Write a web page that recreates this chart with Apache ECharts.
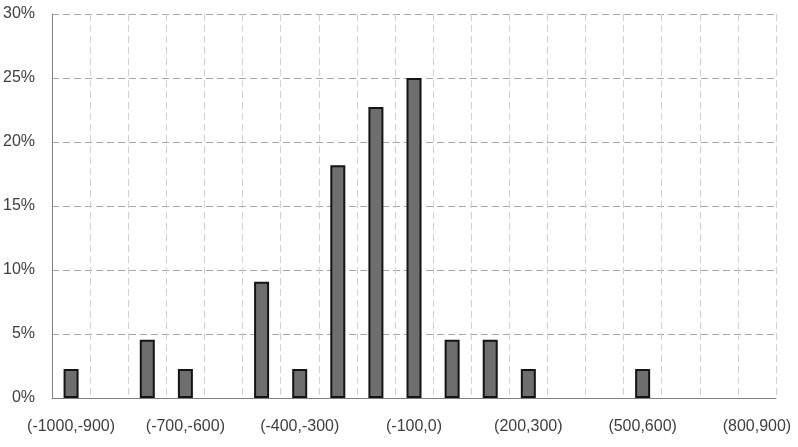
<!DOCTYPE html>
<html><head><meta charset="utf-8">
<script src="https://cdn.jsdelivr.net/npm/echarts@6/dist/echarts.min.js"></script>
<style>html,body{margin:0;padding:0;background:#fff}#c{width:798px;height:447px}</style>
</head><body><div id="c"></div>
<script>
var categories = ["(-1000,-900)","(-900,-800)","(-800,-700)","(-700,-600)","(-600,-500)","(-500,-400)","(-400,-300)","(-300,-200)","(-200,-100)","(-100,0)","(0,100)","(100,200)","(200,300)","(300,400)","(400,500)","(500,600)","(600,700)","(700,800)","(800,900)"];
var shares = [2.27,null,4.55,2.27,null,9.09,2.27,18.18,22.73,25.0,4.55,4.55,2.27,null,null,2.27,null,null,null];
var yTicks = [0,5,10,15,20,25,30];

var chart = echarts.init(document.getElementById('c'));
chart.setOption({
  animation:false,
  grid:{left:52,right:22,top:14,bottom:49,containLabel:false},
  xAxis:{
    type:'category', data:categories, boundaryGap:true,
    axisLine:{show:true,lineStyle:{color:'#7f7f7f',width:1}},
    axisTick:{show:false},
    axisLabel:{interval:2,margin:21,color:'#404040',fontFamily:'Liberation Sans',fontSize:16},
    splitLine:{show:true,interval:0,lineStyle:{color:'#d0d0d0',type:[7,4],width:1}}
  },
  yAxis:{
    type:'value', min:yTicks[0], max:yTicks[yTicks.length-1], interval:5,
    axisLine:{show:true,lineStyle:{color:'#7f7f7f',width:1}},
    axisTick:{show:false},
    axisLabel:{margin:17,color:'#404040',fontFamily:'Liberation Sans',fontSize:16,formatter:function(v){return v+'%';}},
    splitLine:{show:true,lineStyle:{color:'#a6a6a6',type:[7,4],width:1}}
  },
  series:[{
    type:'bar', data:shares, barWidth:15,
    itemStyle:{color:'#6e6e6e',borderColor:'#141414',borderWidth:2}
  }]
});
</script></body></html>
